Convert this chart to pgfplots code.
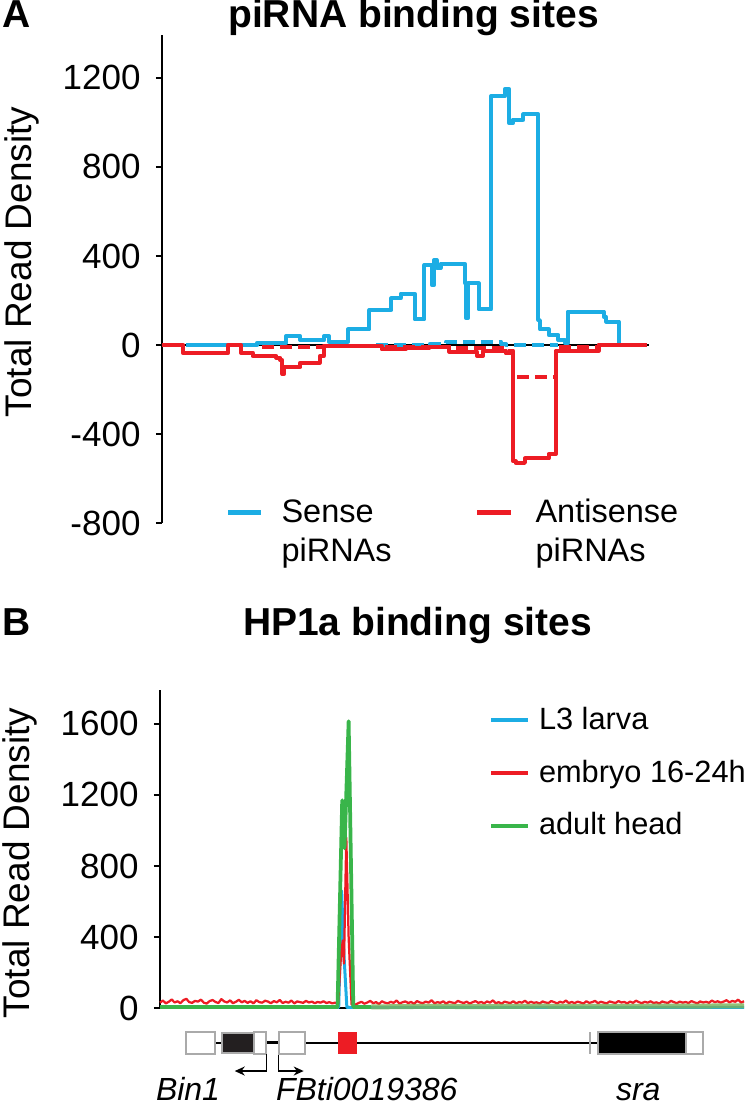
\documentclass[border=0pt]{standalone}
\usepackage{fontspec}
\setmainfont{Liberation Sans}
\usepackage{pgfplots}
\pgfplotsset{compat=1.18}
\usetikzlibrary{arrows.meta}

\definecolor{senseblue}{RGB}{28,173,228}
\definecolor{antired}{RGB}{237,28,36}
\definecolor{hpgreen}{RGB}{57,181,74}
\definecolor{headolive}{RGB}{122,178,88}
\definecolor{boxgray}{RGB}{170,170,170}
\definecolor{exonblack}{RGB}{35,31,32}

\pgfplotsset{
  panel/.style={
    scale only axis, xmin=0, xmax=100, clip=false,
    axis x line=none, axis y line=left, axis line style={-, line width=0.5pt},
    xtick=\empty,
    tick align=outside, major tick length=2.4pt,
    ytick style={line width=0.5pt, black},
    yticklabel style={font=\fontsize{14}{16}\selectfont, inner sep=0pt, xshift=-6pt},
    ylabel={Total Read Density},
    every axis plot/.append style={line join=round},
  },
}

\begin{document}
\begin{tikzpicture}
\useasboundingbox (0,0) rectangle (299.2pt,444.4pt);

% ---------- panel A ----------
\node[anchor=base west, inner sep=0, font=\bfseries\fontsize{15.6}{18}\selectfont] at (0.8pt,433.2pt) {A};
\node[anchor=base, inner sep=0, font=\bfseries\fontsize{15.6}{18}\selectfont] at (165.4pt,433.2pt) {piRNA binding sites};

\begin{axis}[panel,
  at={(64.8pt,235.2pt)}, anchor=south west,
  width=194.8pt, height=195.2pt,
  ymin=-800, ymax=1393,
  ytick={-800,-400,0,400,800,1200},
  yticklabels={-800,-400,0,400,800,1200},
  ylabel style={at={(axis description cs:-0.2875,0.535)}, anchor=center, font=\fontsize{14.8}{17}\selectfont},
]
\draw[black, line width=0.6pt] (axis cs:0,0) -- (axis cs:100,0);
% sense piRNAs
\addplot[senseblue, line width=1.6pt, const plot] coordinates {
 (4.9,0) (19.6,10) (25.5,40) (28.4,22) (33.3,40) (34.3,15) (38.2,70) (42.6,157)
 (47.1,210) (49.0,230) (51.9,115) (53.9,360) (55.4,270) (55.9,382) (56.4,345)
 (57.2,365) (62.2,277) (62.5,120) (62.8,277) (65.0,160) (67.6,1118) (70.4,1150)
 (71.3,996) (72.0,1013) (74.2,1036) (77.3,112) (77.6,70) (79.4,45) (81.4,22)
 (82.8,7) (83.3,150) (90.7,127) (91.2,105) (93.8,0)
};
\addplot[senseblue, line width=1.6pt, const plot, dash pattern=on 4.8pt off 2.4pt] coordinates {
 (44,0) (55,5) (58.3,15) (69.6,5) (70.6,0) (81.4,0)
};
% antisense piRNAs
\addplot[antired, line width=1.6pt, const plot] coordinates {
 (0,0) (4.4,-38) (13.5,0) (16.2,-35) (18.6,-50) (23.5,-58) (24.3,-68) (24.7,-130)
 (25.1,-100) (28.4,-80) (32.4,-50) (33.2,-5) (45.1,-20) (50.0,-15) (54.9,-10)
 (59.0,-30) (64.7,-50) (65.9,-25) (70.6,-38) (72.1,-522) (72.6,-530) (74.5,-510)
 (79.4,-490) (80.9,-25) (89.7,0) (99.5,0)
};
\addplot[antired, line width=1.6pt, const plot, dash pattern=on 4.8pt off 2.4pt] coordinates {
 (20.5,-8) (33.3,-3) (45,-10) (60,-15) (70.6,-25) (72.1,-145) (80.9,-10) (89.7,0) (99,0)
};
\end{axis}

% legend A
\draw[senseblue, line width=2pt] (91.2pt,239.2pt) -- (104.4pt,239.2pt);
\node[anchor=base west, inner sep=0, font=\fontsize{13}{15}\selectfont] at (112.4pt,235.2pt) {Sense};
\node[anchor=base west, inner sep=0, font=\fontsize{13}{15}\selectfont] at (112.4pt,219.6pt) {piRNAs};
\draw[antired, line width=2pt] (190.8pt,239.2pt) -- (204.4pt,239.2pt);
\node[anchor=base west, inner sep=0, font=\fontsize{13}{15}\selectfont] at (214pt,235.2pt) {Antisense};
\node[anchor=base west, inner sep=0, font=\fontsize{13}{15}\selectfont] at (214pt,219.6pt) {piRNAs};

% ---------- panel B ----------
\node[anchor=base west, inner sep=0, font=\bfseries\fontsize{15.6}{18}\selectfont] at (0.8pt,190pt) {B};
\node[anchor=base, inner sep=0, font=\bfseries\fontsize{15.6}{18}\selectfont] at (167pt,190pt) {HP1a binding sites};

\begin{axis}[panel,
  at={(64pt,41.2pt)}, anchor=south west,
  width=233.6pt, height=127.2pt,
  ymin=0, ymax=1791,
  ytick={0,400,800,1200,1600},
  yticklabels={0,400,800,1200,1600},
  ylabel style={at={(axis description cs:-0.24,0.456)}, anchor=center, font=\fontsize{14.8}{17}\selectfont},
]
\draw[black, line width=0.8pt] (axis cs:0,0) -- (axis cs:100,0);
% L3 larva
\addplot[senseblue, line width=1.2pt] coordinates {
 (0,3) (30.6,3) (31.1,660) (31.5,300) (32.0,3) (100,3)
};
% embryo 16-24h
\addplot[antired, line width=0.9pt] coordinates {
 (0,30) (0.5,42) (1,26) (1.5,35) (2,48) (2.5,31) (3,38) (3.5,27) (4,44) (4.5,52)
 (5,33) (5.5,29) (6,40) (6.5,36) (7,47) (7.5,30) (8,25) (8.5,39) (9,45) (9.5,34)
 (10,28) (10.5,50) (11,37) (11.5,31) (12,43) (12.5,27) (13,35) (13.5,46) (14,32) (14.5,40)
 (15,29) (15.5,38) (16,26) (16.5,44) (17,33) (17.5,30) (18,41) (18.5,36) (19,27) (19.5,39)
 (20,32) (20.5,45) (21,28) (21.5,35) (22,30) (22.5,42) (23,26) (23.5,37) (24,33) (24.5,29)
 (25,40) (25.5,31) (26,36) (26.5,27) (27,34) (27.5,30) (28,38) (28.5,28) (29,33) (29.5,26)
 (30,30) (30.5,25) (31.0,300) (31.3,380) (31.5,250) (31.9,960) (32.3,400) (32.8,20)
 (33.5,20) (34,28) (34.5,35) (35,24) (35.5,31) (36,40) (36.5,27) (37,33) (37.5,22) (38,38)
 (38.5,30) (39,26) (39.5,35) (40,29) (40.5,42) (41,25) (41.5,32) (42,37) (42.5,28) (43,34)
 (43.5,23) (44,39) (44.5,31) (45,27) (45.5,36) (46,30) (46.5,44) (47,26) (47.5,33) (48,29)
 (48.5,38) (49,24) (49.5,35) (50,31) (50.5,27) (51,40) (51.5,33) (52,28) (52.5,36) (53,25)
 (53.5,32) (54,39) (54.5,29) (55,34) (55.5,26) (56,37) (56.5,30) (57,43) (57.5,27) (58,33)
 (58.5,24) (59,36) (59.5,31) (60,28) (60.5,38) (61,26) (61.5,34) (62,30) (62.5,41) (63,27)
 (63.5,35) (64,29) (64.5,32) (65,25) (65.5,37) (66,31) (66.5,28) (67,39) (67.5,33) (68,26)
 (68.5,35) (69,30) (69.5,42) (70,28) (70.5,34) (71,27) (71.5,36) (72,31) (72.5,25) (73,38)
 (73.5,29) (74,33) (74.5,40) (75,27) (75.5,35) (76,30) (76.5,26) (77,37) (77.5,32) (78,28)
 (78.5,39) (79,31) (79.5,34) (80,26) (80.5,36) (81,29) (81.5,41) (82,33) (82.5,27) (83,35)
 (83.5,30) (84,38) (84.5,28) (85,32) (85.5,25) (86,37) (86.5,31) (87,29) (87.5,40) (88,33)
 (88.5,27) (89,36) (89.5,30) (90,34) (90.5,28) (91,39) (91.5,32) (92,26) (92.5,37) (93,31)
 (93.5,35) (94,29) (94.5,42) (95,33) (95.5,38) (96,30) (96.5,36) (97,44) (97.5,32) (98,40)
 (98.5,35) (99,47) (99.5,30) (100,38)
};
% adult head
\addplot[hpgreen, line width=1.5pt] coordinates {
 (0,5) (10,5) (20,6) (30.4,5) (31.2,1170) (31.6,900) (32.3,1615) (33.1,5) (36.2,6)
};
\addplot[headolive, line width=2pt, opacity=0.8] coordinates {
 (36.2,6) (45,9) (55,8) (65,10) (75,9) (85,10) (100,12)
};

% gene model
\draw[black, line width=0.5pt] (axis cs:9.4,-197) -- (axis cs:10.6,-197);
\draw[black, line width=1.2pt] (axis cs:18.2,-197) -- (axis cs:20.4,-197);
\draw[black, line width=0.5pt] (axis cs:24.8,-197) -- (axis cs:75.0,-197);
\draw[boxgray, line width=0.9pt, fill=white] (axis cs:4.5,-135) rectangle (axis cs:9.4,-260);
\draw[boxgray, line width=0.9pt, fill=exonblack] (axis cs:10.6,-140) rectangle (axis cs:16.1,-255);
\draw[boxgray, line width=0.9pt, fill=white] (axis cs:16.1,-135) rectangle (axis cs:18.2,-260);
\draw[boxgray, line width=0.9pt, fill=white] (axis cs:20.4,-135) rectangle (axis cs:24.8,-260);
\fill[antired] (axis cs:30.5,-135) rectangle (axis cs:33.7,-260);
\draw[boxgray, line width=0.7pt] (axis cs:73.6,-135) -- (axis cs:73.6,-260);
\draw[boxgray, line width=0.9pt, fill=black] (axis cs:75.0,-135) rectangle (axis cs:90.1,-260);
\draw[boxgray, line width=0.9pt, fill=white] (axis cs:90.1,-135) rectangle (axis cs:93.0,-260);
\draw[black, line width=0.6pt, -{Stealth[length=4pt,width=3.6pt]}] (axis cs:18.2,-260) -- (axis cs:18.2,-355) -- (axis cs:12.8,-355);
\draw[black, line width=0.6pt, -{Stealth[length=4pt,width=3.6pt]}] (axis cs:20.3,-265) -- (axis cs:20.3,-355) -- (axis cs:24.6,-355);
\node[anchor=base, inner sep=0, font=\itshape\fontsize{12.8}{15}\selectfont] at (axis cs:4.8,-522) {Bin1};
\node[anchor=base, inner sep=0, font=\itshape\fontsize{12.8}{15}\selectfont] at (axis cs:35.4,-522) {FBti0019386};
\node[anchor=base, inner sep=0, font=\itshape\fontsize{12.8}{15}\selectfont] at (axis cs:81.9,-522) {sra};
\end{axis}

% legend B
\draw[senseblue, line width=1.6pt] (196.4pt,156.4pt) -- (211.2pt,156.4pt);
\node[anchor=base west, inner sep=0, font=\fontsize{12.3}{15}\selectfont] at (215.4pt,152.4pt) {L3 larva};
\draw[antired, line width=1.6pt] (196.4pt,135.2pt) -- (211.2pt,135.2pt);
\node[anchor=base west, inner sep=0, font=\fontsize{12.3}{15}\selectfont] at (215.4pt,131.2pt) {embryo 16-24h};
\draw[hpgreen, line width=1.6pt] (196.4pt,114pt) -- (211.2pt,114pt);
\node[anchor=base west, inner sep=0, font=\fontsize{12.3}{15}\selectfont] at (215.4pt,110.4pt) {adult head};
\end{tikzpicture}
\end{document}
